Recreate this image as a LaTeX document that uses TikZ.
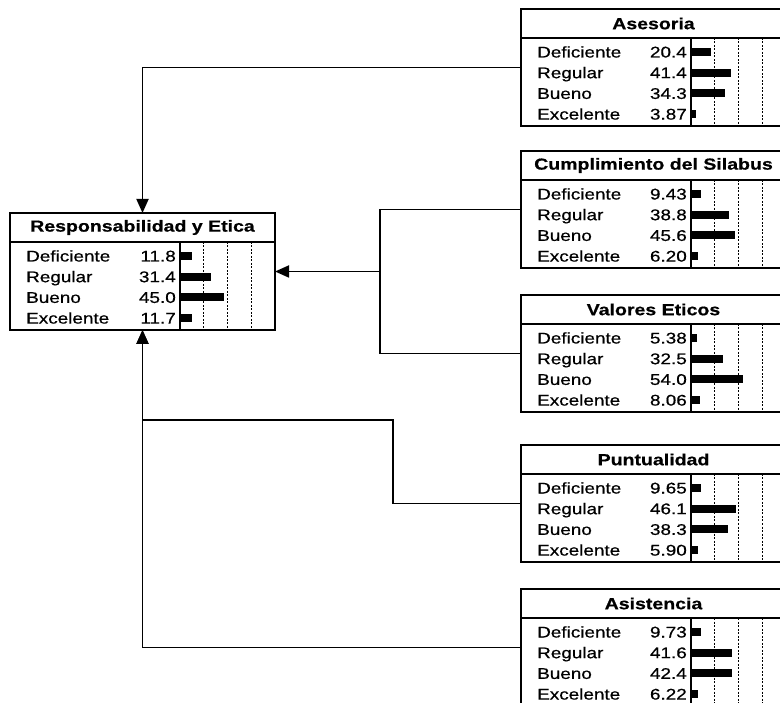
\documentclass[tikz,border=0pt]{standalone}
\usepackage{fontspec}
\setmainfont{Liberation Sans}[FakeStretch=1.22,FakeBold=0.6]
\usepackage{tikz}
\usetikzlibrary{arrows.meta,calc}

% one node box: name, top-left corner, title, four percentages
\newcommand{\netbox}[7]{%
  \node[box, anchor=north west] (#1) at (#2) {};
  \node[hdr, anchor=north west] (#1-t) at (#1.north west) {#3};
  \draw[frame] ($(#1-t.south west)+(170,0)$) -- ($(#1.south west)+(170,0)$);
  \foreach \k in {1,2,3}
    \draw[grid] ($(#1-t.south west)+(170+23.75*\k,0)$) -- ($(#1.south west)+(170+23.75*\k,0)$);
  \foreach \lab/\val [count=\i] in {Deficiente/#4, Regular/#5, Bueno/#6, Excelente/#7} {
    \node[lbl, anchor=west] (#1-l\i) at ($(#1-t.south west)+(16,14+20.7*\i-20.7)$) {\lab};
    \node[lbl, anchor=east] (#1-v\i) at ($(#1-t.south west)+(166,14+20.7*\i-20.7)$) {\val};
    \fill ($(#1-t.south west)+(171,10+20.7*\i-20.7)$) rectangle +(0.95*\val,8);
  }
}

\begin{document}
\begin{tikzpicture}[x=1pt, y=-1pt,
  box/.style={draw, line width=1.8pt, minimum width=265pt, minimum height=117pt, inner sep=0pt, outer sep=0pt},
  hdr/.style={draw, line width=1.8pt, minimum width=265pt, minimum height=29pt, inner sep=0pt, outer sep=0pt, font=\fontsize{16}{18}\selectfont\bfseries},
  lbl/.style={inner sep=0pt, font=\fontsize{15.5}{17}\selectfont, text height=11pt, text depth=0pt},
  frame/.style={line width=1.6pt},
  grid/.style={line width=1pt, dash pattern=on 2pt off 1.5pt},
  wire/.style={line width=1.8pt},
  arr/.style={-{Triangle[length=14pt,width=12pt]}, line width=1.8pt},
]
\useasboundingbox (0,0) rectangle (780,703);
\clip (0,0) rectangle (780,703);

% ─── Target node (left) ───
\netbox{resp}{10,213}{Responsabilidad y Etica}{11.8}{31.4}{45.0}{11.7}

% ─── Parent nodes (right column) ───
\netbox{ases}{521,9}{Asesoria}{20.4}{41.4}{34.3}{3.87}
\netbox{cump}{521,151}{Cumplimiento del Silabus}{9.43}{38.8}{45.6}{6.20}
\netbox{valo}{521,295}{Valores Eticos}{5.38}{32.5}{54.0}{8.06}
\netbox{punt}{521,445}{Puntualidad}{9.65}{46.1}{38.3}{5.90}
\netbox{asis}{521,589}{Asistencia}{9.73}{41.6}{42.4}{6.22}

% ─── Junctions ───
\coordinate (jr) at (380,271.5);
\coordinate (jp) at (393,420);

% ─── Arrows into the target ───
\draw[arr] (ases.west) -| (resp.north);
\draw[wire] (cump.west) -| (jr);
\draw[wire] (valo.west) -| (jr);
\draw[arr] (jr) -- (resp.east);
\draw[arr] (punt.west) -| (jp) -| (resp.south);
\draw[arr] (asis.west) -| (resp.south);

\end{tikzpicture}
\end{document}
